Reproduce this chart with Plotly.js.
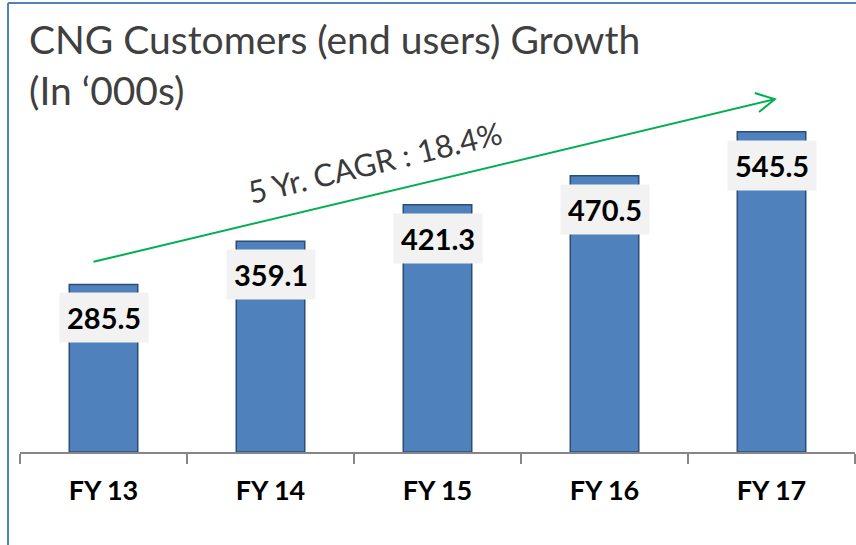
<!DOCTYPE html>
<html>
<head>
<meta charset="utf-8">
<script src="https://cdn.plot.ly/plotly-3.0.1.min.js"></script>
<style>html,body{margin:0;padding:0;background:#fff;}#chart{width:856px;height:545px;}</style>
</head>
<body>
<div id="chart"></div>
<script>
const categories = ["FY 13", "FY 14", "FY 15", "FY 16", "FY 17"];
const customers = [285.5, 359.1, 421.3, 470.5, 545.5];
const valueLabels = ["285.5", "359.1", "421.3", "470.5", "545.5"];
const titleText = "CNG Customers (end users) Growth<br>(In ‘000s)";
const cagrText = "5 Yr. CAGR : 18.4%";

const trace = {
  type: "bar",
  x: categories,
  y: customers,
  width: 0.41,
  marker: { color: "#4f81bd", line: { color: "#2c4d75", width: 1.5 } },
  hoverinfo: "x+y"
};

const labelAnnotations = categories.map((c, i) => ({
  x: c, y: customers[i], xref: "x", yref: "y",
  text: "<b>" + valueLabels[i] + "</b>",
  showarrow: false, yanchor: "top", yshift: -8,
  bgcolor: "#f2f2f2", borderpad: 7,
  font: { family: "Lato, sans-serif", size: 29, color: "#000" }
}));

const layout = {
  width: 856, height: 545,
  margin: { l: 20, r: 1, t: 20, b: 93 },
  paper_bgcolor: "#fff", plot_bgcolor: "#fff",
  showlegend: false,
  bargap: 0.59,
  xaxis: {
    type: "category",
    showline: true, linecolor: "#868686", linewidth: 2,
    ticks: "outside", tickson: "boundaries", ticklen: 10, tickcolor: "#868686", tickwidth: 2,
    showgrid: false, zeroline: false,
    tickfont: { family: "Lato, sans-serif", size: 27, color: "#000", weight: "bold" },
    ticklabelstandoff: 14,
    range: [-0.5, 4.5]
  },
  yaxis: {
    visible: false, range: [0, 736], showgrid: false, zeroline: false
  },
  annotations: labelAnnotations.concat([
    {
      x: 7 / 836, y: 1 + 6 / 432, xref: "paper", yref: "paper",
      xanchor: "left", yanchor: "top", align: "left",
      text: titleText, showarrow: false,
      font: { family: "Lato, sans-serif", size: 39, color: "#404040" }
    },
    {
      x: 1.626, y: 494, xref: "x", yref: "y",
      text: cagrText, showarrow: false, textangle: -13.5,
      font: { family: "Lato, sans-serif", size: 31, color: "#3a3a3a" }
    }
  ]),
  shapes: [
    { type: "line", xref: "paper", yref: "paper", x0: -12/836, x1: -12/836, y0: -93/432, y1: 1 + 17/432,
      line: { color: "#4f81bd", width: 2 } },
    { type: "line", xref: "paper", yref: "paper", x0: -12/836, x1: 1.01, y0: 1 + 17/432, y1: 1 + 17/432,
      line: { color: "#4f81bd", width: 2 } },
    { type: "line", xref: "x", yref: "y", x0: -0.06, y0: 324, x1: 4.02, y1: 601,
      line: { color: "#00b050", width: 2 } },
    { type: "path", xref: "x", yref: "y",
      path: "M 3.90 611.6 L 4.02 601 L 3.925 579.2",
      line: { color: "#00b050", width: 2 } }
  ]
};

Plotly.newPlot("chart", [trace], layout, { displayModeBar: false, staticPlot: true });
</script>
</body>
</html>
